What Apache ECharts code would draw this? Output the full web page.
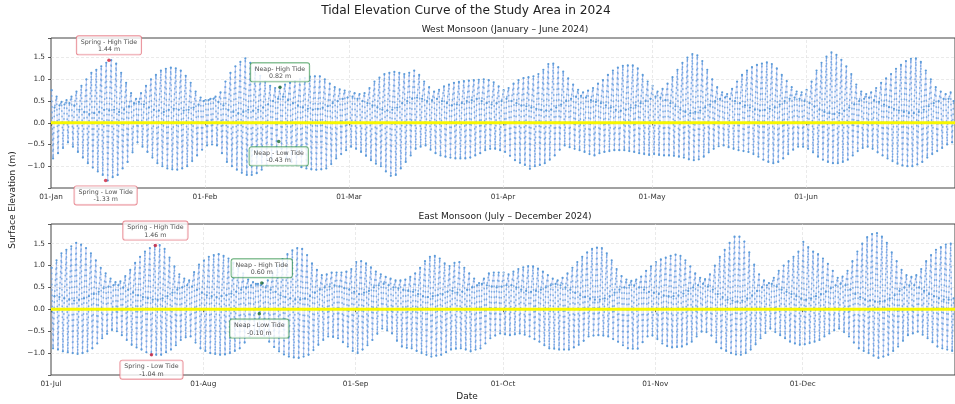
<!DOCTYPE html>
<html>
<head>
<meta charset="utf-8">
<title>Tidal Elevation Curve of the Study Area in 2024</title>
<script src="https://cdn.jsdelivr.net/npm/echarts@6/dist/echarts.min.js"></script>
<style>
  html, body { margin: 0; padding: 0; background: #fff; }
  #chart { width: 955px; height: 404px; }
</style>
</head>
<body>
<div id="chart"></div>
<script>
// daily tide values (m); index 0 = first day of the panel
// high = higher high water, low = lower low water, second = the smaller high of the day
const westHigh = [
  0.75, 0.60, 0.48, 0.52, 0.60, 0.72, 0.85, 1.00, 1.15, 1.22,
  1.30, 1.38, 1.44, 1.36, 1.15, 0.92, 0.68, 0.55, 0.68, 0.85,
  1.00, 1.10, 1.20, 1.24, 1.27, 1.25, 1.20, 1.08, 0.92, 0.72,
  0.58, 0.52, 0.55, 0.60, 0.70, 0.95, 1.15, 1.30, 1.40, 1.48,
  1.38, 1.25, 1.08, 0.95, 0.85, 0.80, 0.82, 0.88, 0.92, 0.96,
  1.00, 1.03, 1.06, 1.07, 1.07, 1.00, 0.90, 0.82, 0.77, 0.74,
  0.72, 0.68, 0.66, 0.68, 0.80, 0.95, 1.04, 1.12, 1.15, 1.17,
  1.15, 1.12, 1.15, 1.20, 1.10, 0.95, 0.82, 0.72, 0.76, 0.84,
  0.88, 0.92, 0.94, 0.96, 0.97, 0.98, 0.99, 1.00, 0.98, 0.93,
  0.84, 0.75, 0.80, 0.90, 0.98, 1.03, 1.05, 1.07, 1.12, 1.22,
  1.35, 1.36, 1.28, 1.18, 1.02, 0.88, 0.76, 0.70, 0.74, 0.80,
  0.90, 0.98, 1.10, 1.20, 1.27, 1.31, 1.32, 1.32, 1.25, 1.10,
  0.95, 0.85, 0.72, 0.78, 0.90, 1.05, 1.22, 1.38, 1.50, 1.58,
  1.55, 1.42, 1.22, 1.00, 0.82, 0.70, 0.66, 0.78, 0.95, 1.10,
  1.20, 1.28, 1.33, 1.36, 1.39, 1.35, 1.25, 1.10, 0.96, 0.82,
  0.72, 0.70, 0.76, 0.95, 1.20, 1.38, 1.52, 1.62, 1.56, 1.45,
  1.30, 1.12, 0.88, 0.72, 0.66, 0.70, 0.80, 0.92, 1.02, 1.12,
  1.24, 1.33, 1.42, 1.47, 1.48, 1.40, 1.20, 1.00, 0.82, 0.72,
  0.66, 0.70
];
const westLow = [
  -0.82, -0.70, -0.58, -0.45, -0.55, -0.67, -0.80, -0.93, -1.03, -1.12,
  -1.20, -1.33, -1.25, -1.20, -1.05, -0.90, -0.68, -0.45, -0.55, -0.67,
  -0.80, -0.93, -1.00, -1.05, -1.07, -1.08, -1.05, -1.00, -0.88, -0.75,
  -0.62, -0.52, -0.50, -0.52, -0.70, -0.90, -1.00, -1.08, -1.15, -1.20,
  -1.20, -1.16, -1.08, -0.97, -0.82, -0.67, -0.60, -0.82, -0.90, -0.97,
  -1.02, -1.05, -1.07, -1.08, -1.07, -1.05, -0.95, -0.82, -0.72, -0.63,
  -0.55, -0.60, -0.67, -0.76, -0.86, -0.94, -1.00, -1.12, -1.22, -1.20,
  -1.05, -0.90, -0.75, -0.60, -0.55, -0.52, -0.62, -0.70, -0.75, -0.78,
  -0.80, -0.82, -0.82, -0.82, -0.80, -0.75, -0.70, -0.63, -0.60, -0.60,
  -0.63, -0.67, -0.76, -0.86, -0.92, -0.97, -1.06, -1.00, -0.97, -0.93,
  -0.85, -0.75, -0.62, -0.52, -0.56, -0.60, -0.63, -0.67, -0.72, -0.75,
  -0.70, -0.67, -0.65, -0.63, -0.63, -0.63, -0.65, -0.67, -0.70, -0.72,
  -0.74, -0.72, -0.74, -0.75, -0.75, -0.76, -0.78, -0.80, -0.84, -0.86,
  -0.84, -0.78, -0.68, -0.60, -0.54, -0.52, -0.56, -0.60, -0.63, -0.65,
  -0.67, -0.72, -0.78, -0.85, -0.90, -0.93, -0.90, -0.82, -0.72, -0.62,
  -0.55, -0.55, -0.60, -0.68, -0.78, -0.85, -0.90, -0.93, -0.93, -0.90,
  -0.85, -0.75, -0.65, -0.58, -0.55, -0.60, -0.68, -0.75, -0.82, -0.88,
  -0.94, -0.98, -1.00, -1.00, -0.96, -0.90, -0.80, -0.72, -0.65, -0.58,
  -0.50, -0.45
];
const westSecond = [
  0.35, 0.40, 0.42, 0.45, 0.40, 0.30,
  0.25, 0.20, 0.22, 0.25, 0.30, 0.28, 0.30, 0.25, 0.30,
  0.38, 0.45, 0.48, 0.42, 0.35,
  0.30, 0.28, 0.25, 0.30, 0.32, 0.30, 0.28, 0.30, 0.35,
  0.42, 0.50, 0.52, 0.55, 0.48, 0.40,
  0.30, 0.25, 0.22, 0.25, 0.30, 0.28, 0.30, 0.35,
  0.42, 0.50, 0.55, 0.60, 0.52, 0.45, 0.40,
  0.35, 0.32, 0.30, 0.32, 0.35, 0.38, 0.45, 0.50, 0.55,
  0.58, 0.60, 0.55, 0.50, 0.45, 0.40,
  0.35, 0.30, 0.28, 0.30, 0.35, 0.45, 0.50, 0.55,
  0.58, 0.55, 0.50, 0.52, 0.55, 0.50, 0.45,
  0.40, 0.42, 0.45, 0.50, 0.52, 0.55, 0.50, 0.45, 0.42, 0.45,
  0.50, 0.55, 0.50, 0.45, 0.40, 0.38, 0.35, 0.32,
  0.30, 0.28, 0.30, 0.35, 0.42, 0.50, 0.55,
  0.60, 0.62, 0.58, 0.52, 0.48, 0.45, 0.40,
  0.35, 0.30, 0.28, 0.30, 0.35, 0.40, 0.45, 0.50,
  0.55, 0.60, 0.58, 0.52, 0.45, 0.38, 0.30,
  0.25, 0.22, 0.25, 0.28, 0.35, 0.42, 0.50,
  0.55, 0.58, 0.55, 0.50, 0.45, 0.40, 0.35,
  0.30, 0.28, 0.30, 0.32, 0.35, 0.42, 0.50, 0.55,
  0.58, 0.55, 0.50, 0.45, 0.38, 0.30, 0.25,
  0.22, 0.20, 0.22, 0.28, 0.35, 0.42, 0.50,
  0.55, 0.58, 0.52, 0.48, 0.42, 0.36, 0.32,
  0.28, 0.25, 0.22, 0.22, 0.25, 0.30, 0.38,
  0.45, 0.50, 0.55, 0.55, 0.50
];

const eastHigh = [
  0.95, 1.12, 1.28, 1.36, 1.44, 1.52, 1.48, 1.40, 1.28, 1.12,
  0.95, 0.82, 0.70, 0.62, 0.64, 0.76, 0.90, 1.06, 1.20, 1.32,
  1.40, 1.46, 1.47, 1.38, 1.18, 0.98, 0.80, 0.70, 0.66, 0.85,
  1.02, 1.12, 1.20, 1.24, 1.26, 1.22, 1.16, 1.06, 0.95, 0.82,
  0.68, 0.62, 0.58, 0.60, 0.66, 0.82, 1.00, 1.15, 1.26, 1.35,
  1.40, 1.38, 1.24, 1.05, 0.90, 0.78, 0.80, 0.84, 0.84, 0.84,
  0.86, 0.92, 1.08, 1.10, 1.05, 0.96, 0.86, 0.80, 0.74, 0.70,
  0.66, 0.66, 0.68, 0.74, 0.82, 0.95, 1.10, 1.20, 1.22, 1.16,
  1.05, 0.99, 1.06, 1.08, 0.95, 0.82, 0.70, 0.60, 0.70, 0.82,
  0.84, 0.84, 0.84, 0.80, 0.86, 0.92, 0.96, 0.99, 0.98, 0.93,
  0.86, 0.78, 0.70, 0.66, 0.72, 0.82, 0.95, 1.08, 1.20, 1.30,
  1.38, 1.41, 1.40, 1.28, 1.12, 0.92, 0.76, 0.68, 0.65, 0.68,
  0.75, 0.88, 0.98, 1.08, 1.14, 1.18, 1.22, 1.25, 1.22, 1.12,
  0.98, 0.82, 0.72, 0.69, 0.80, 1.00, 1.20, 1.36, 1.52, 1.66,
  1.66, 1.55, 1.30, 1.02, 0.80, 0.66, 0.60, 0.72, 0.88, 1.00,
  1.10, 1.20, 1.32, 1.54, 1.42, 1.32, 1.26, 1.16, 1.04, 0.88,
  0.72, 0.75, 0.88, 1.10, 1.32, 1.50, 1.65, 1.72, 1.74, 1.66,
  1.52, 1.30, 1.10, 0.90, 0.78, 0.74, 0.78, 0.92, 1.10, 1.24,
  1.36, 1.42, 1.48, 1.50
];
const eastLow = [
  -0.89, -0.92, -0.96, -0.98, -1.00, -1.02, -1.00, -0.96, -0.89, -0.78,
  -0.66, -0.56, -0.47, -0.50, -0.59, -0.70, -0.81, -0.87, -0.92, -0.98,
  -1.04, -1.04, -1.04, -0.98, -0.92, -0.82, -0.70, -0.64, -0.62, -0.76,
  -0.89, -0.95, -1.00, -1.02, -1.04, -1.03, -1.00, -0.95, -0.89, -0.76,
  -0.62, -0.55, -0.51, -0.60, -0.74, -0.86, -0.96, -1.03, -1.08, -1.10,
  -1.11, -1.08, -1.04, -0.93, -0.81, -0.70, -0.62, -0.63, -0.66, -0.75,
  -0.85, -0.95, -1.00, -0.92, -0.82, -0.70, -0.56, -0.44, -0.48, -0.55,
  -0.72, -0.85, -0.88, -0.89, -0.95, -1.00, -1.04, -1.08, -1.06, -1.04,
  -0.98, -0.92, -0.90, -0.89, -0.92, -0.96, -0.92, -0.89, -0.78, -0.66,
  -0.60, -0.55, -0.57, -0.59, -0.57, -0.55, -0.58, -0.62, -0.68, -0.74,
  -0.82, -0.89, -0.90, -0.92, -0.92, -0.92, -0.87, -0.81, -0.72, -0.62,
  -0.60, -0.59, -0.60, -0.62, -0.68, -0.74, -0.82, -0.89, -0.90, -0.90,
  -0.75, -0.62, -0.60, -0.68, -0.78, -0.84, -0.87, -0.86, -0.85, -0.80,
  -0.74, -0.62, -0.51, -0.52, -0.60, -0.75, -0.89, -0.95, -1.00, -1.03,
  -1.04, -1.00, -0.92, -0.80, -0.66, -0.54, -0.44, -0.52, -0.59, -0.66,
  -0.74, -0.78, -0.81, -0.80, -0.77, -0.74, -0.70, -0.62, -0.55, -0.48,
  -0.44, -0.52, -0.62, -0.76, -0.89, -0.95, -1.00, -1.06, -1.11, -1.08,
  -1.04, -0.95, -0.85, -0.72, -0.59, -0.55, -0.51, -0.58, -0.66, -0.75,
  -0.85, -0.89, -0.92, -0.95
];
const eastSecond = [
  0.30, 0.28, 0.25, 0.22, 0.20, 0.22, 0.25, 0.30, 0.35,
  0.40, 0.48, 0.52, 0.55, 0.55, 0.50, 0.45,
  0.38, 0.32, 0.28, 0.25, 0.22, 0.22, 0.25, 0.30, 0.38,
  0.45, 0.50, 0.55, 0.52, 0.45, 0.38,
  0.32, 0.30, 0.28, 0.30, 0.32, 0.36, 0.40, 0.45,
  0.50, 0.55, 0.58, 0.55, 0.50, 0.45, 0.40,
  0.32, 0.28, 0.25, 0.22, 0.22, 0.25, 0.30, 0.38,
  0.45, 0.50, 0.52, 0.55, 0.52, 0.48, 0.45, 0.40,
  0.35, 0.38, 0.42, 0.50, 0.55, 0.58, 0.55, 0.50,
  0.48, 0.45, 0.42, 0.40, 0.35, 0.30, 0.28, 0.30,
  0.32, 0.35, 0.40, 0.42, 0.38, 0.40, 0.45, 0.50, 0.55,
  0.58, 0.55, 0.52, 0.50, 0.52, 0.55, 0.55, 0.50, 0.45,
  0.42, 0.40, 0.42, 0.45, 0.50, 0.55, 0.58, 0.55,
  0.50, 0.45, 0.38, 0.32, 0.28, 0.25, 0.22, 0.22,
  0.25, 0.30, 0.38, 0.45, 0.50, 0.55, 0.55, 0.50,
  0.45, 0.40, 0.38, 0.35, 0.32, 0.30, 0.30, 0.32,
  0.36, 0.42, 0.50, 0.55, 0.58, 0.52, 0.45, 0.35,
  0.28, 0.22, 0.20, 0.18, 0.20, 0.25, 0.32, 0.42,
  0.50, 0.55, 0.58, 0.52, 0.45, 0.40, 0.35, 0.30,
  0.25, 0.22, 0.25, 0.30, 0.35, 0.40, 0.48, 0.55,
  0.58, 0.55, 0.45, 0.35, 0.28, 0.22, 0.20, 0.18,
  0.18, 0.20, 0.25, 0.32, 0.42, 0.50, 0.55, 0.55,
  0.50, 0.42, 0.35, 0.30, 0.25, 0.22, 0.22, 0.25
];

// month ticks, in days from the start of each panel
const westTicks = [0, 31, 60, 91, 121, 152];
const westTickLabels = ['01-Jan', '01-Feb', '01-Mar', '01-Apr', '01-May', '01-Jun'];
const eastTicks = [0, 31, 62, 92, 123, 153];
const eastTickLabels = ['01-Jul', '01-Aug', '01-Sep', '01-Oct', '01-Nov', '01-Dec'];
const yTicks = [-1, -0.5, 0, 0.5, 1, 1.5];

// annotated extremes: day (from panel start), elevation (m)
const westMarks = [
  { name: 'Spring - High Tide', day: 11.67, value: 1.44 },
  { name: 'Spring - Low Tide', day: 11.0, value: -1.33 },
  { name: 'Neap- High Tide', day: 46.1, value: 0.82 },
  { name: 'Neap - Low Tide', day: 45.85, value: -0.43 }
];
const eastMarks = [
  { name: 'Spring - High Tide', day: 21.25, value: 1.46 },
  { name: 'Spring - Low Tide', day: 20.45, value: -1.04 },
  { name: 'Neap - High Tide', day: 42.9, value: 0.60 },
  { name: 'Neap - Low Tide', day: 42.4, value: -0.10 }
];

const FONT = 'DejaVu Sans';
const chart = echarts.init(document.getElementById('chart'));

// three turning points per day: high at 03h, low at 10h, second high at 17h
function tidePoints(high, low, second) {
  const pts = [];
  for (let d = 0; d < high.length; d++) {
    pts.push([d + 3 / 24, high[d]], [d + 10 / 24, low[d]], [d + 17 / 24, second[d]]);
  }
  return pts;
}

function fmtY(v) {
  if (!yTicks.includes(v)) return '';
  return v < 0 ? '\u2212' + Math.abs(v).toFixed(1) : v.toFixed(1);
}

function xAxisFor(idx, days, ticks, labels) {
  return {
    type: 'value', gridIndex: idx, min: 0, max: days,
    axisLine: { show: false },
    axisTick: { show: true, customValues: ticks, length: 3, lineStyle: { color: '#333', width: 0.8 } },
    axisLabel: {
      customValues: ticks, margin: 6, fontSize: 7.3, fontFamily: FONT, color: '#333',
      formatter: v => labels[ticks.indexOf(v)]
    },
    splitLine: { show: false }
  };
}

function yAxisFor(idx) {
  return {
    type: 'value', gridIndex: idx, min: -1.5, max: 1.95, interval: 0.5,
    axisLine: { show: false },
    axisTick: { show: true, length: 3, lineStyle: { color: '#333', width: 0.8 } },
    axisLabel: { margin: 6, fontSize: 7.3, fontFamily: FONT, color: '#333', formatter: fmtY },
    splitLine: {
      show: true, showMinLine: false, showMaxLine: false,
      lineStyle: { type: [3, 2], color: '#dcdcdc', width: 0.6 }
    }
  };
}

function panelSeries(idx, days, ticks, high, low, second, marks) {
  const pts = tidePoints(high, low, second);
  return [
    {
      // vertical grid lines at month starts
      type: 'line', xAxisIndex: idx, yAxisIndex: idx, data: [], z: 1, silent: true,
      markLine: {
        silent: true, symbol: ['none', 'none'], label: { show: false },
        lineStyle: { type: [3, 2], color: '#dcdcdc', width: 0.6 },
        data: ticks.slice(1).map(t => ({ xAxis: t }))
      }
    },
    {
      name: 'Tide', type: 'line', xAxisIndex: idx, yAxisIndex: idx, data: pts, z: 2,
      showSymbol: true, showAllSymbol: true, symbol: 'circle', symbolSize: 2.2,
      itemStyle: { color: '#5b9bd8' },
      lineStyle: { width: 0.7, color: 'rgba(140,160,235,0.55)' }
    },
    {
      name: 'Tide samples', type: 'line', xAxisIndex: idx, yAxisIndex: idx, data: pts, z: 3,
      showSymbol: false, silent: true,
      lineStyle: { width: 1.6, color: 'rgba(95,155,220,0.75)', type: [0.5, 5], cap: 'round' }
    },
    {
      name: 'Mean level', type: 'line', xAxisIndex: idx, yAxisIndex: idx, z: 6,
      data: [[0, 0], [days, 0]], showSymbol: false, silent: true,
      lineStyle: { width: 3, color: '#f7f700' }
    },
    {
      type: 'scatter', xAxisIndex: idx, yAxisIndex: idx, z: 8, symbolSize: 3.5,
      data: marks.map(m => {
        const spring = m.name.startsWith('Spring');
        const isHigh = m.name.includes('High');
        return {
          value: [m.day, m.value], name: m.name,
          itemStyle: { color: spring ? '#d0213a' : '#1f6b30' },
          label: {
            show: true, position: isHigh ? 'top' : 'bottom', distance: 4,
            formatter: p => p.name + '\n' + p.value[1].toFixed(2) + ' m',
            fontFamily: FONT, fontSize: 6.3, lineHeight: 7.6, color: '#222', align: 'center',
            backgroundColor: '#fff', borderColor: spring ? '#e4707c' : '#3f9a55',
            borderWidth: 0.9, borderRadius: 2, padding: [2, 4, 1, 4]
          }
        };
      })
    }
  ];
}

chart.setOption({
  animation: false,
  backgroundColor: '#fff',
  title: [
    { text: 'Tidal Elevation Curve of the Study Area in 2024', left: 466, top: 5, textAlign: 'center', padding: 0,
      textStyle: { fontSize: 12.2, fontWeight: 'normal', fontFamily: FONT, color: '#222' } },
    { text: 'West Monsoon (January \u2013 June 2024)', left: 505, top: 25, textAlign: 'center', padding: 0,
      textStyle: { fontSize: 9.1, fontWeight: 'normal', fontFamily: FONT, color: '#222' } },
    { text: 'East Monsoon (July \u2013 December 2024)', left: 505, top: 212, textAlign: 'center', padding: 0,
      textStyle: { fontSize: 9.1, fontWeight: 'normal', fontFamily: FONT, color: '#222' } }
  ],
  grid: [
    { left: 51, top: 38, width: 910, height: 150, show: true, borderColor: '#444', borderWidth: 1, backgroundColor: 'transparent' },
    { left: 51, top: 224, width: 909, height: 151, show: true, borderColor: '#444', borderWidth: 1, backgroundColor: 'transparent' }
  ],
  xAxis: [
    xAxisFor(0, westHigh.length, westTicks, westTickLabels),
    xAxisFor(1, eastHigh.length, eastTicks, eastTickLabels)
  ],
  yAxis: [yAxisFor(0), yAxisFor(1)],
  graphic: [
    { type: 'text', x: 13, y: 200, rotation: Math.PI / 2,
      style: { text: 'Surface Elevation (m)', align: 'center', verticalAlign: 'middle', font: '9px "DejaVu Sans"', fill: '#222' } },
    { type: 'text', x: 467, y: 397,
      style: { text: 'Date', align: 'center', verticalAlign: 'middle', font: '9px "DejaVu Sans"', fill: '#222' } }
  ],
  series: [].concat(
    panelSeries(0, westHigh.length, westTicks, westHigh, westLow, westSecond, westMarks),
    panelSeries(1, eastHigh.length, eastTicks, eastHigh, eastLow, eastSecond, eastMarks)
  )
});
</script>
</body>
</html>
